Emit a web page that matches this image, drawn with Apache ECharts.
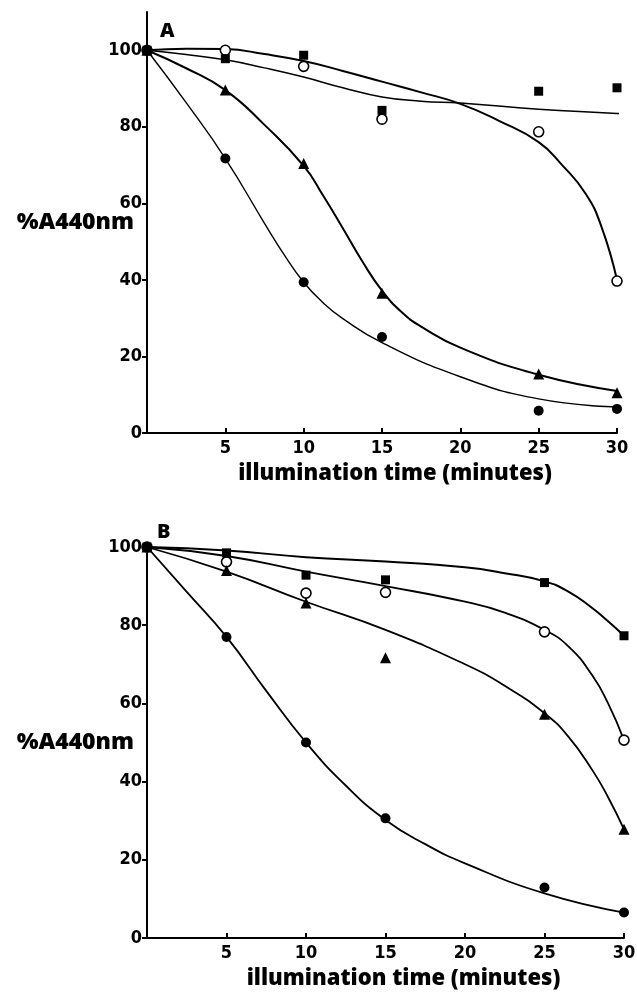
<!DOCTYPE html>
<html>
<head>
<meta charset="utf-8">
<script src="https://cdn.jsdelivr.net/npm/echarts@6/dist/echarts.min.js"></script>
<style>
  html, body { margin: 0; padding: 0; background: #fff; }
  #chart { width: 637px; height: 998px; }
</style>
</head>
<body>
<div id="chart"></div>
<script>
// measured points (minutes, %A440nm)
const minutes = [0, 5, 10, 15, 25, 30];
const yTicks = [0, 20, 40, 60, 80, 100];

// panel A
const openA = [100, 100, 95.8, 82, 78.7, 39.7];
const squareA = [100, 97.8, 98.7, 84.3, 89.3, 90.2];
const triA = [100, 89.6, 70.4, 36.5, 15.4, 10.5];
const dotA = [100, 71.7, 39.4, 25.1, 5.8, 6.3];

// panel B
const openB = [100, 96.2, 88.2, 88.4, 78.3, 50.6];
const squareB = [100, 98.5, 92.8, 91.6, 90.9, 77.3];
const triB = [100, 94.0, 85.7, 71.7, 57.2, 27.8];
const dotB = [100, 77.0, 50.0, 30.6, 12.9, 6.5];

// fitted curves
const curveOpenA = [[0, 100], [2.5, 100.4], [5, 100.3], [7.5, 99], [10, 97.2], [12.5, 94.6], [15, 91.8], [17.5, 89], [20, 86], [22.5, 81.5], [25, 76], [26.5, 70], [28, 62.5], [29, 54], [30, 40]];
const curveSquareA = [[0, 100], [2.5, 98.9], [5, 97.5], [7.5, 95.4], [10, 93], [12.5, 90.2], [15, 87.8], [17.5, 86.7], [20, 86.2], [25, 84.6], [30, 83.5], [31.3, 83]];
const curveTriA = [[0, 100], [2.5, 95.3], [5, 89.6], [7.5, 80.5], [10, 69.8], [11.25, 62], [12.5, 53.5], [13.75, 44.8], [15, 37.2], [16.25, 31.6], [17.5, 27.8], [20, 22.3], [25, 15.2], [30, 11]];
const curveDotA = [[0, 100], [2.5, 86.3], [5, 71.7], [7.5, 54.8], [8.75, 46.6], [10, 39.4], [11.25, 34], [12.5, 29.9], [15, 23.6], [20, 14.7], [25, 8.9], [30, 6.8]];

const curveSquareB = [[0, 100], [5, 99.1], [10, 97.4], [15, 96.3], [20, 94.8], [22.5, 93.3], [25, 91.2], [26.5, 88.6], [28, 84.4], [29, 81], [30, 77.3]];
const curveOpenB = [[0, 100], [5, 97.7], [10, 93.7], [15, 90], [20, 86], [22.5, 83.2], [25, 78.8], [26.5, 74.6], [28, 67.2], [29, 60], [30, 50.6]];
const curveTriB = [[0, 100], [5, 93.7], [10, 86], [15, 78.8], [20, 70], [22.5, 64.5], [25, 57.5], [26.5, 51.5], [28, 43], [29, 36], [30, 27.8]];
const curveDotB = [[0, 100], [2.5, 88.5], [5, 77], [7.5, 63.2], [10, 50], [12.5, 39], [15, 30.2], [17.5, 24], [20, 19.1], [25, 11.4], [30, 6.5]];

const tickFont = "'Liberation Sans Narrow', 'DejaVu Sans Condensed', 'Roboto', 'Liberation Sans', sans-serif";
const titleFont = "'Open Sans', 'DejaVu Sans', sans-serif";

const chart = echarts.init(document.getElementById('chart'), null, { renderer: 'canvas' });

function pairs(ys) {
    return minutes.map((m, i) => [m, ys[i]]);
}

function xAxisFor(idx, shift) {
    return {
        gridIndex: idx,
        type: 'value',
        min: 0,
        max: 30,
        interval: 5,
        name: 'illumination time (minutes)',
        nameLocation: 'middle',
        nameGap: 30,
        nameMoveOverlap: false,
        nameTextStyle: {
            fontFamily: titleFont, fontWeight: 800, fontSize: 22, color: '#000',
            padding: [0, 0, 0, shift]
        },
        axisLine: { lineStyle: { color: '#000', width: 2 } },
        axisTick: { inside: true, length: 5, lineStyle: { color: '#000', width: 2 } },
        axisLabel: {
            showMinLabel: false, margin: 6,
            fontFamily: tickFont, fontWeight: 'bold', fontSize: 18, color: '#000'
        },
        splitLine: { show: false }
    };
}

function yAxisFor(idx, max) {
    return {
        gridIndex: idx,
        type: 'value',
        min: 0,
        max: max,
        name: '%A440nm',
        nameLocation: 'middle',
        nameRotate: 0,
        nameGap: 13,
        nameMoveOverlap: false,
        nameTextStyle: {
            fontFamily: titleFont, fontWeight: 800, fontSize: 23, color: '#000',
            align: 'right', verticalAlign: 'middle'
        },
        axisLine: { show: true, lineStyle: { color: '#000', width: 2 } },
        axisTick: { show: true, length: 5, customValues: yTicks, lineStyle: { color: '#000', width: 2 } },
        axisLabel: {
            customValues: yTicks, margin: 5,
            fontFamily: tickFont, fontWeight: 'bold', fontSize: 18, color: '#000'
        },
        splitLine: { show: false }
    };
}

function markers(idx, data, symbol, size, open) {
    return {
        type: 'scatter',
        xAxisIndex: idx, yAxisIndex: idx,
        data: data,
        symbol: symbol,
        symbolSize: size,
        clip: false,
        z: 5,
        itemStyle: open
            ? { color: '#fff', borderColor: '#000', borderWidth: 1.6, opacity: 1 }
            : { color: '#000', opacity: 1 }
    };
}

function curve(idx, data, width) {
    return {
        type: 'line',
        xAxisIndex: idx, yAxisIndex: idx,
        data: data,
        smooth: true,
        showSymbol: false,
        symbol: 'none',
        clip: false,
        lineStyle: { color: '#000', width: width }
    };
}

const option = {
    animation: false,
    backgroundColor: '#fff',
    title: [
        { text: 'A', left: 155, top: 16, textStyle: { fontFamily: titleFont, fontWeight: 800, fontSize: 20, color: '#000' } },
        { text: 'B', left: 152, top: 517, textStyle: { fontFamily: titleFont, fontWeight: 800, fontSize: 20, color: '#000' } }
    ],
    grid: [
        { left: 147, right: 20, top: 12, bottom: 565, outerBoundsMode: 'none' },
        { left: 147, right: 13, top: 547, bottom: 60, outerBoundsMode: 'none' }
    ],
    xAxis: [xAxisFor(0, 26), xAxisFor(1, 36)],
    yAxis: [yAxisFor(0, 110), yAxisFor(1, 100)],
    series: [
        curve(0, curveOpenA, 2),
        curve(0, curveSquareA, 1.5),
        curve(0, curveTriA, 2),
        curve(0, curveDotA, 1.4),
        markers(0, pairs(openA), 'circle', 10, true),
        markers(0, pairs(squareA), 'rect', 9, false),
        markers(0, pairs(triA), 'triangle', 11, false),
        markers(0, pairs(dotA), 'circle', 10, false),

        curve(1, curveSquareB, 2),
        curve(1, curveOpenB, 1.8),
        curve(1, curveTriB, 1.8),
        curve(1, curveDotB, 1.8),
        markers(1, pairs(openB), 'circle', 10, true),
        markers(1, pairs(squareB), 'rect', 9, false),
        markers(1, pairs(triB), 'triangle', 11, false),
        markers(1, pairs(dotB), 'circle', 10, false)
    ]
};

chart.setOption(option);
</script>
</body>
</html>
